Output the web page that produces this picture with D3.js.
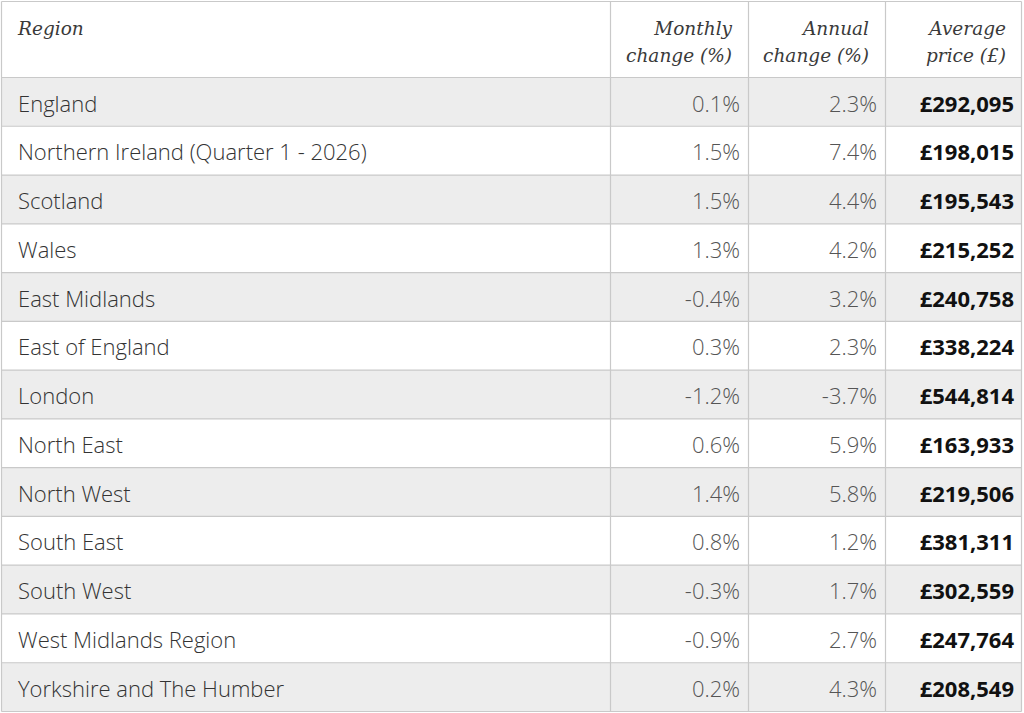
<!DOCTYPE html>
<html>
<head>
<meta charset="utf-8">
<script src="https://cdn.jsdelivr.net/npm/d3@7"></script>
<style>
html,body{margin:0;padding:0;background:#fff;}
svg{display:block;}
</style>
</head>
<body>
<svg id="chart" width="1024" height="713"></svg>
<script>
const headers = [["Region"], ["Monthly", "change (%)"], ["Annual", "change (%)"], ["Average", "price (£)"]];
const regions = ["England", "Northern Ireland (Quarter 1 - 2026)", "Scotland", "Wales", "East Midlands", "East of England", "London", "North East", "North West", "South East", "South West", "West Midlands Region", "Yorkshire and The Humber"];
const monthly = [0.1, 1.5, 1.5, 1.3, -0.4, 0.3, -1.2, 0.6, 1.4, 0.8, -0.3, -0.9, 0.2];
const annual = [2.3, 7.4, 4.4, 4.2, 3.2, 2.3, -3.7, 5.9, 5.8, 1.2, 1.7, 2.7, 4.3];
const price = [292095, 198015, 195543, 215252, 240758, 338224, 544814, 163933, 219506, 381311, 302559, 247764, 208549];

const svg = d3.select("#chart");
const colEdges = [1.5, 610.5, 748.5, 885.5, 1021.5];
const tableTop = 1.5, headBottom = 77.5, tableBottom = 711.5;
const lineColor = "#c9c9c9";

const y = d3.scaleBand().domain(d3.range(regions.length)).range([headBottom, tableBottom]).padding(0);

// row backgrounds
svg.selectAll("rect.row").data(regions).join("rect")
  .attr("x", colEdges[0]).attr("width", colEdges[4] - colEdges[0])
  .attr("y", (d, i) => y(i)).attr("height", y.bandwidth())
  .attr("fill", (d, i) => i % 2 === 0 ? "#ededed" : "#ffffff");

// horizontal lines
const hLines = [tableTop, headBottom].concat(d3.range(regions.length).map(i => y(i) + y.bandwidth()));
svg.selectAll("line.h").data(hLines).join("line")
  .attr("x1", colEdges[0]).attr("x2", colEdges[4])
  .attr("y1", d => d).attr("y2", d => d)
  .attr("stroke", lineColor).attr("stroke-width", 1.2);
// vertical lines
svg.selectAll("line.v").data(colEdges).join("line")
  .attr("x1", d => d).attr("x2", d => d)
  .attr("y1", tableTop).attr("y2", tableBottom)
  .attr("stroke", lineColor).attr("stroke-width", 1.2);

// headers
const headX = [18, 732, 869, 1006];
headers.forEach((lines, c) => {
  const t = svg.append("text")
    .attr("font-family", "'DejaVu Serif', Georgia, serif")
    .attr("font-style", "italic")
    .attr("font-size", 18.5)
    .attr("fill", "#3a3a3a")
    .attr("text-anchor", c === 0 ? "start" : "end");
  lines.forEach((l, k) => {
    t.append("tspan").attr("x", headX[c]).attr("y", 35 + k * 27).text(l);
  });
});

const fmtPct = v => d3.format(".1f")(v).replace("−", "-") + "%";
const fmtPrice = v => "£" + d3.format(",")(v);
const base = i => y(i) + 34;

svg.selectAll("text.reg").data(regions).join("text")
  .attr("x", 18).attr("y", (d, i) => base(i))
  .attr("font-family", "'Open Sans', sans-serif").attr("font-weight", 300)
  .attr("font-size", 22).attr("fill", "#333").text(d => d);

svg.selectAll("text.mon").data(monthly).join("text")
  .attr("x", 740).attr("y", (d, i) => base(i)).attr("text-anchor", "end")
  .attr("font-family", "'Open Sans', sans-serif").attr("font-weight", 300)
  .attr("font-size", 22).attr("fill", "#555").text(fmtPct);

svg.selectAll("text.ann").data(annual).join("text")
  .attr("x", 877).attr("y", (d, i) => base(i)).attr("text-anchor", "end")
  .attr("font-family", "'Open Sans', sans-serif").attr("font-weight", 300)
  .attr("font-size", 22).attr("fill", "#555").text(fmtPct);

svg.selectAll("text.pr").data(price).join("text")
  .attr("x", 1014).attr("y", (d, i) => base(i)).attr("text-anchor", "end")
  .attr("font-family", "'Open Sans', sans-serif").attr("font-weight", 700)
  .attr("font-size", 22).attr("fill", "#111").text(fmtPrice);
</script>
</body>
</html>
